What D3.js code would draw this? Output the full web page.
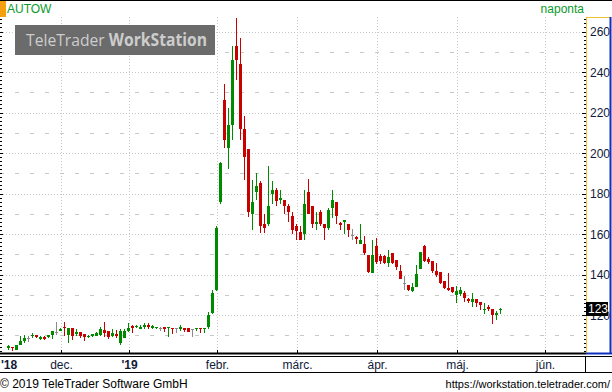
<html>
<head>
<meta charset="utf-8">
<style>
  body { margin: 0; background: #fff; }
  svg text { font-family: "Liberation Sans", Arial, sans-serif; }
  .grid-major { stroke: #c8c8c8; stroke-width: 1; stroke-dasharray: 1,2; }
  .grid-minor { stroke: #c8c8c8; stroke-width: 1; stroke-dasharray: 4,11; }
  .ylab, .xlab { fill: #101a3a; font-size: 12px; }
</style>
</head>
<body>
<svg id="chart" width="612" height="392"></svg>
<script src="https://d3js.org/d3.v7.min.js"></script>
<script>
// daily candles, AUTOW, Nov 2018 - May 2019 (one entry per trading day)
var open = [103.8,104.5,103.2,105.5,107.2,108.8,109.8,110.4,108.4,109.6,109.4,110.3,111.8,112.4,114.4,110.3,113.6,110.8,111.8,110.8,
  109.5,109.8,110.1,110.4,112.7,112.1,110.1,110.8,106.2,109.1,112.4,114.7,114.1,113.4,114.1,115.4,113.7,113.7,113.7,114.1,
  113.7,113.7,113.7,113.1,113.7,113.7,113.1,113.1,113.7,113.1,114.4,121.2,132.6,175.9,226.6,202.7,214.2,253.0,244.4,212.2,
  202.4,170.2,181.2,185.4,165.2,165.2,180.1,182.1,177.1,177.1,174.3,169.2,164.2,161.3,160.3,181.1,174.1,165.2,171.2,165.2,
  163.3,173.1,176.1,165.6,166.2,165.2,160.0,158.6,155.3,155.3,149.9,141.1,154.3,149.4,149.6,145.8,150.9,147.4,142.1,136.2,
  134.9,132.2,134.2,143.1,154.1,148.0,147.1,142.1,141.5,137.2,133.5,134.2,129.9,130.6,131.3,128.0,126.6,128.3,126.6,122.6,
  124.0,123.0,120.2,122.6];
var high = [105.5,104.5,105.5,110.1,110.4,110.1,111.4,110.4,110.1,110.1,110.6,112.4,116.7,113.7,116.7,113.9,113.6,113.1,111.8,111.1,
  110.4,110.8,111.8,114.1,116.7,112.4,113.4,112.7,113.4,113.4,116.1,115.1,115.4,115.1,116.4,116.1,115.1,114.4,114.4,114.1,
  114.4,113.7,113.7,115.1,113.7,113.7,113.1,113.7,113.7,113.7,121.7,132.6,164.2,195.9,234.5,222.5,253.0,267.0,256.8,218.7,
  202.4,186.7,190.4,186.2,170.2,193.6,186.5,182.9,182.1,177.1,175.1,171.3,165.2,164.2,182.1,187.5,174.1,171.2,172.2,165.2,
  173.1,182.1,176.1,166.4,167.2,165.2,162.6,159.3,165.2,159.3,149.9,157.3,158.2,150.4,149.9,152.1,150.9,147.4,144.9,139.5,
  134.9,135.9,144.9,151.4,154.8,149.0,147.1,145.8,141.5,137.2,140.8,134.2,134.5,134.2,132.2,128.6,131.2,128.3,126.6,126.3,
  125.3,123.3,122.3,123.6];
var low = [103.2,102.5,102.9,105.2,106.2,106.8,108.8,109.1,107.8,107.8,109.1,108.2,110.3,112.1,110.1,106.5,108.1,109.9,109.1,107.4,
  109.1,109.6,110.1,109.8,109.4,108.4,109.4,108.8,105.5,108.8,111.8,111.4,113.7,113.1,113.4,113.4,113.1,113.1,112.4,111.8,
  109.4,111.1,111.4,112.4,111.8,111.8,109.4,112.1,111.4,111.4,113.4,120.7,132.1,175.1,202.7,192.4,206.5,236.5,206.5,186.7,
  168.5,162.3,177.1,160.6,160.6,164.2,175.1,174.3,175.1,170.2,166.3,160.3,157.3,157.3,157.3,170.2,163.2,162.3,164.2,157.3,
  162.3,168.0,165.2,162.3,160.3,158.6,157.3,155.3,155.3,149.9,141.1,141.1,145.4,145.4,145.4,143.9,145.2,142.4,137.8,132.5,
  132.1,131.7,134.2,142.8,146.3,145.4,141.1,139.2,135.5,133.0,131.9,131.2,126.0,129.6,126.6,126.2,124.3,124.0,122.6,120.7,
  122.0,115.7,118.0,120.7];
var close = [105.0,104.0,105.2,107.5,108.8,108.8,110.6,109.6,109.6,108.6,110.4,112.2,111.8,113.4,113.7,113.6,109.9,111.8,110.1,109.5,
  110.1,110.8,111.4,113.4,111.4,109.4,111.4,109.8,112.1,112.4,113.7,113.7,114.7,114.4,115.4,114.1,114.7,114.4,113.7,113.4,
  114.4,113.4,113.7,114.4,112.7,111.8,113.1,113.7,113.1,113.7,120.3,131.1,163.2,195.3,206.5,214.2,246.4,246.4,212.2,198.5,
  171.3,176.0,184.0,164.4,163.1,174.1,182.1,176.3,178.2,174.3,171.1,162.3,161.9,157.3,175.1,170.2,165.2,166.2,165.2,163.3,
  172.2,177.1,169.2,164.6,167.2,162.3,160.0,157.7,157.3,150.7,141.6,149.9,146.6,147.1,145.7,148.9,145.7,143.9,137.8,136.2,
  132.5,134.2,140.5,151.4,147.1,146.5,141.9,140.0,136.2,133.4,132.5,131.7,132.2,132.6,128.6,127.3,128.3,126.3,125.0,123.3,
  123.0,120.2,121.3,123.3];

// x axis: index of first trading day of each month
var monthLabels = ["dec.", "'19", "febr.", "márc.", "ápr.", "máj.", "jún."];
var monthStart  = [13, 30, 52, 72, 92, 112, 134];
var yearLabels  = ["'19"];

var yTicks = [120, 140, 160, 180, 200, 220, 240, 260];
var yHalf  = [110, 130, 150, 170, 190, 210, 230, 250];

var W = 612, H = 392;
var plotL = 0, plotR = 586, plotT = 17, plotB = 354;

var svg = d3.select("#chart");

var x = d3.scaleLinear().domain([0, 134]).range([8.5, 544.5]);
var y = d3.scaleLinear().domain([120, 260]).range([315.5, 32]);
var px = function(v) { return Math.floor(y(v)) + 0.5; };

svg.append("rect").attr("width", W).attr("height", H).attr("fill", "#fff");

// header
svg.append("rect").attr("x", 0).attr("y", 0).attr("width", 6).attr("height", 17).attr("fill", "#f5a00f");
svg.append("line").attr("x1", 0).attr("x2", W).attr("y1", 0.5).attr("y2", 0.5).attr("stroke", "#000");
svg.append("text").attr("x", 7).attr("y", 13).attr("fill", "#0a9a2a").style("font-size", "12px").text("AUTOW");
svg.append("text").attr("x", 584).attr("y", 13).attr("text-anchor", "end").attr("fill", "#0a9a2a")
  .style("font-size", "12px").text("naponta");

// grid
var grid = svg.append("g");
grid.selectAll(".gm").data(yTicks).enter().append("line")
  .attr("class", "grid-major")
  .attr("x1", plotL).attr("x2", plotR)
  .attr("y1", px).attr("y2", px);
grid.selectAll(".gh").data(yHalf).enter().append("line")
  .attr("class", "grid-minor")
  .attr("x1", plotL).attr("x2", plotR)
  .attr("y1", px).attr("y2", px);
grid.selectAll(".gv").data(monthStart).enter().append("line")
  .attr("class", "grid-major")
  .attr("x1", function(d) { return x(d) + 1; }).attr("x2", function(d) { return x(d) + 1; })
  .attr("y1", plotT).attr("y2", plotB);

// watermark
var wm = svg.append("g");
wm.append("rect").attr("x", 15).attr("y", 25).attr("width", 200).attr("height", 30).attr("fill", "#6b6b6b");
var wt = wm.append("text").attr("x", 26).attr("y", 46)
  .attr("textLength", 181).attr("lengthAdjust", "spacingAndGlyphs")
  .attr("fill", "#cdcdcd").style("font-size", "17px").style("font-family", "'Open Sans', sans-serif");
wt.append("tspan").text("TeleTrader ");
wt.append("tspan").style("font-weight", "bold").text("WorkStation");

// candles
var idx = d3.range(close.length);
var colorOf = function(i) {
  if (close[i] > open[i]) return "#008a00";
  if (close[i] < open[i]) return "#c80000";
  return "#8a8a8a";
};
var candles = svg.append("g").selectAll("g").data(idx).enter().append("g");
candles.append("rect")
  .attr("x", function(i) { return x(i) - 0.5; })
  .attr("width", 1)
  .attr("y", function(i) { return Math.round(y(high[i])); })
  .attr("height", function(i) { return Math.max(1, Math.round(y(low[i])) - Math.round(y(high[i]))); })
  .attr("fill", colorOf);
candles.append("rect")
  .attr("x", function(i) { return x(i) - 1.5; })
  .attr("width", 3)
  .attr("y", function(i) { return Math.round(y(Math.max(open[i], close[i]))); })
  .attr("height", function(i) {
    return Math.max(1, Math.round(y(Math.min(open[i], close[i]))) - Math.round(y(Math.max(open[i], close[i]))));
  })
  .attr("fill", colorOf);

// left ticks
var minorVals = d3.range(102, 268, 2);
svg.append("g").selectAll("line").data(minorVals).enter().append("line")
  .attr("x1", 0).attr("x2", function(d) { return d % 20 === 0 ? 3 : 2; })
  .attr("y1", px).attr("y2", px)
  .attr("stroke", "#000");

// right axis box
var ax = svg.append("g");
ax.append("line").attr("x1", 586.5).attr("x2", 586.5).attr("y1", plotT).attr("y2", plotB).attr("stroke", "#f0c030");
ax.append("line").attr("x1", 586).attr("x2", 611).attr("y1", plotT + 0.5).attr("y2", plotT + 0.5).attr("stroke", "#f0c030");
ax.append("line").attr("x1", 610.5).attr("x2", 610.5).attr("y1", plotT).attr("y2", plotB).attr("stroke", "#1030c0").attr("stroke-width", 2);
ax.append("line").attr("x1", 586).attr("x2", 612).attr("y1", plotB - 0.5).attr("y2", plotB - 0.5).attr("stroke", "#1030c0").attr("stroke-width", 2);
ax.selectAll(".rt").data(minorVals.filter(function(d) { return y(d) > plotT && y(d) < plotB; })).enter().append("line")
  .attr("x1", function(d) { return d % 20 === 0 ? 582 : 584; }).attr("x2", 586)
  .attr("y1", px).attr("y2", px)
  .attr("stroke", "#000");
// the 120 label sits partly under the last-price tag, as in the source
ax.selectAll(".ylab").data(yTicks).enter().append("text")
  .attr("class", "ylab")
  .attr("x", 590).attr("y", function(d) { return y(d); })
  .attr("dy", "0.36em")
  .text(function(d) { return d; });

// last price tag
var last = close[close.length - 1];
ax.append("rect").attr("x", 586).attr("y", Math.round(y(last)) - 7).attr("width", 22).attr("height", 14).attr("fill", "#000");
ax.append("text").attr("x", 588).attr("y", y(last)).attr("dy", "0.36em")
  .attr("fill", "#fff").style("font-size", "12px").text(Math.round(last));

// x axis strip
var xa = svg.append("g");
xa.append("line").attr("x1", 0).attr("x2", 586).attr("y1", plotB - 0.5).attr("y2", plotB - 0.5).attr("stroke", "#000").attr("stroke-width", 2);
xa.append("line").attr("x1", 0).attr("x2", 612).attr("y1", 356.5).attr("y2", 356.5).attr("stroke", "#000");
xa.append("line").attr("x1", 0).attr("x2", 612).attr("y1", 372.5).attr("y2", 372.5).attr("stroke", "#000");
xa.append("line").attr("x1", 585.5).attr("x2", 585.5).attr("y1", 356).attr("y2", 373).attr("stroke", "#000");
xa.selectAll(".mt").data(monthStart).enter().append("line")
  .attr("x1", function(d) { return x(d) + 1; }).attr("x2", function(d) { return x(d) + 1; })
  .attr("y1", plotB - 4).attr("y2", plotB)
  .attr("stroke", "#000");
xa.selectAll(".xlab").data(monthLabels).enter().append("text")
  .attr("class", "xlab")
  .attr("x", function(d, i) { return x(monthStart[i]) + 1; })
  .attr("y", 369)
  .attr("text-anchor", "middle")
  .style("font-weight", function(d) { return yearLabels.indexOf(d) >= 0 ? "bold" : "normal"; })
  .text(function(d) { return d; });
xa.append("text").attr("class", "xlab").attr("x", 1).attr("y", 369)
  .style("font-weight", "bold").text("'18");

// footer
svg.append("text").attr("x", 0).attr("y", 388).attr("fill", "#000").style("font-size", "12px")
  .text("© 2019 TeleTrader Software GmbH");
svg.append("text").attr("x", 610).attr("y", 388).attr("text-anchor", "end").attr("fill", "#000").style("font-size", "11px")
  .text("https://workstation.teletrader.com/");
</script>
</body>
</html>
